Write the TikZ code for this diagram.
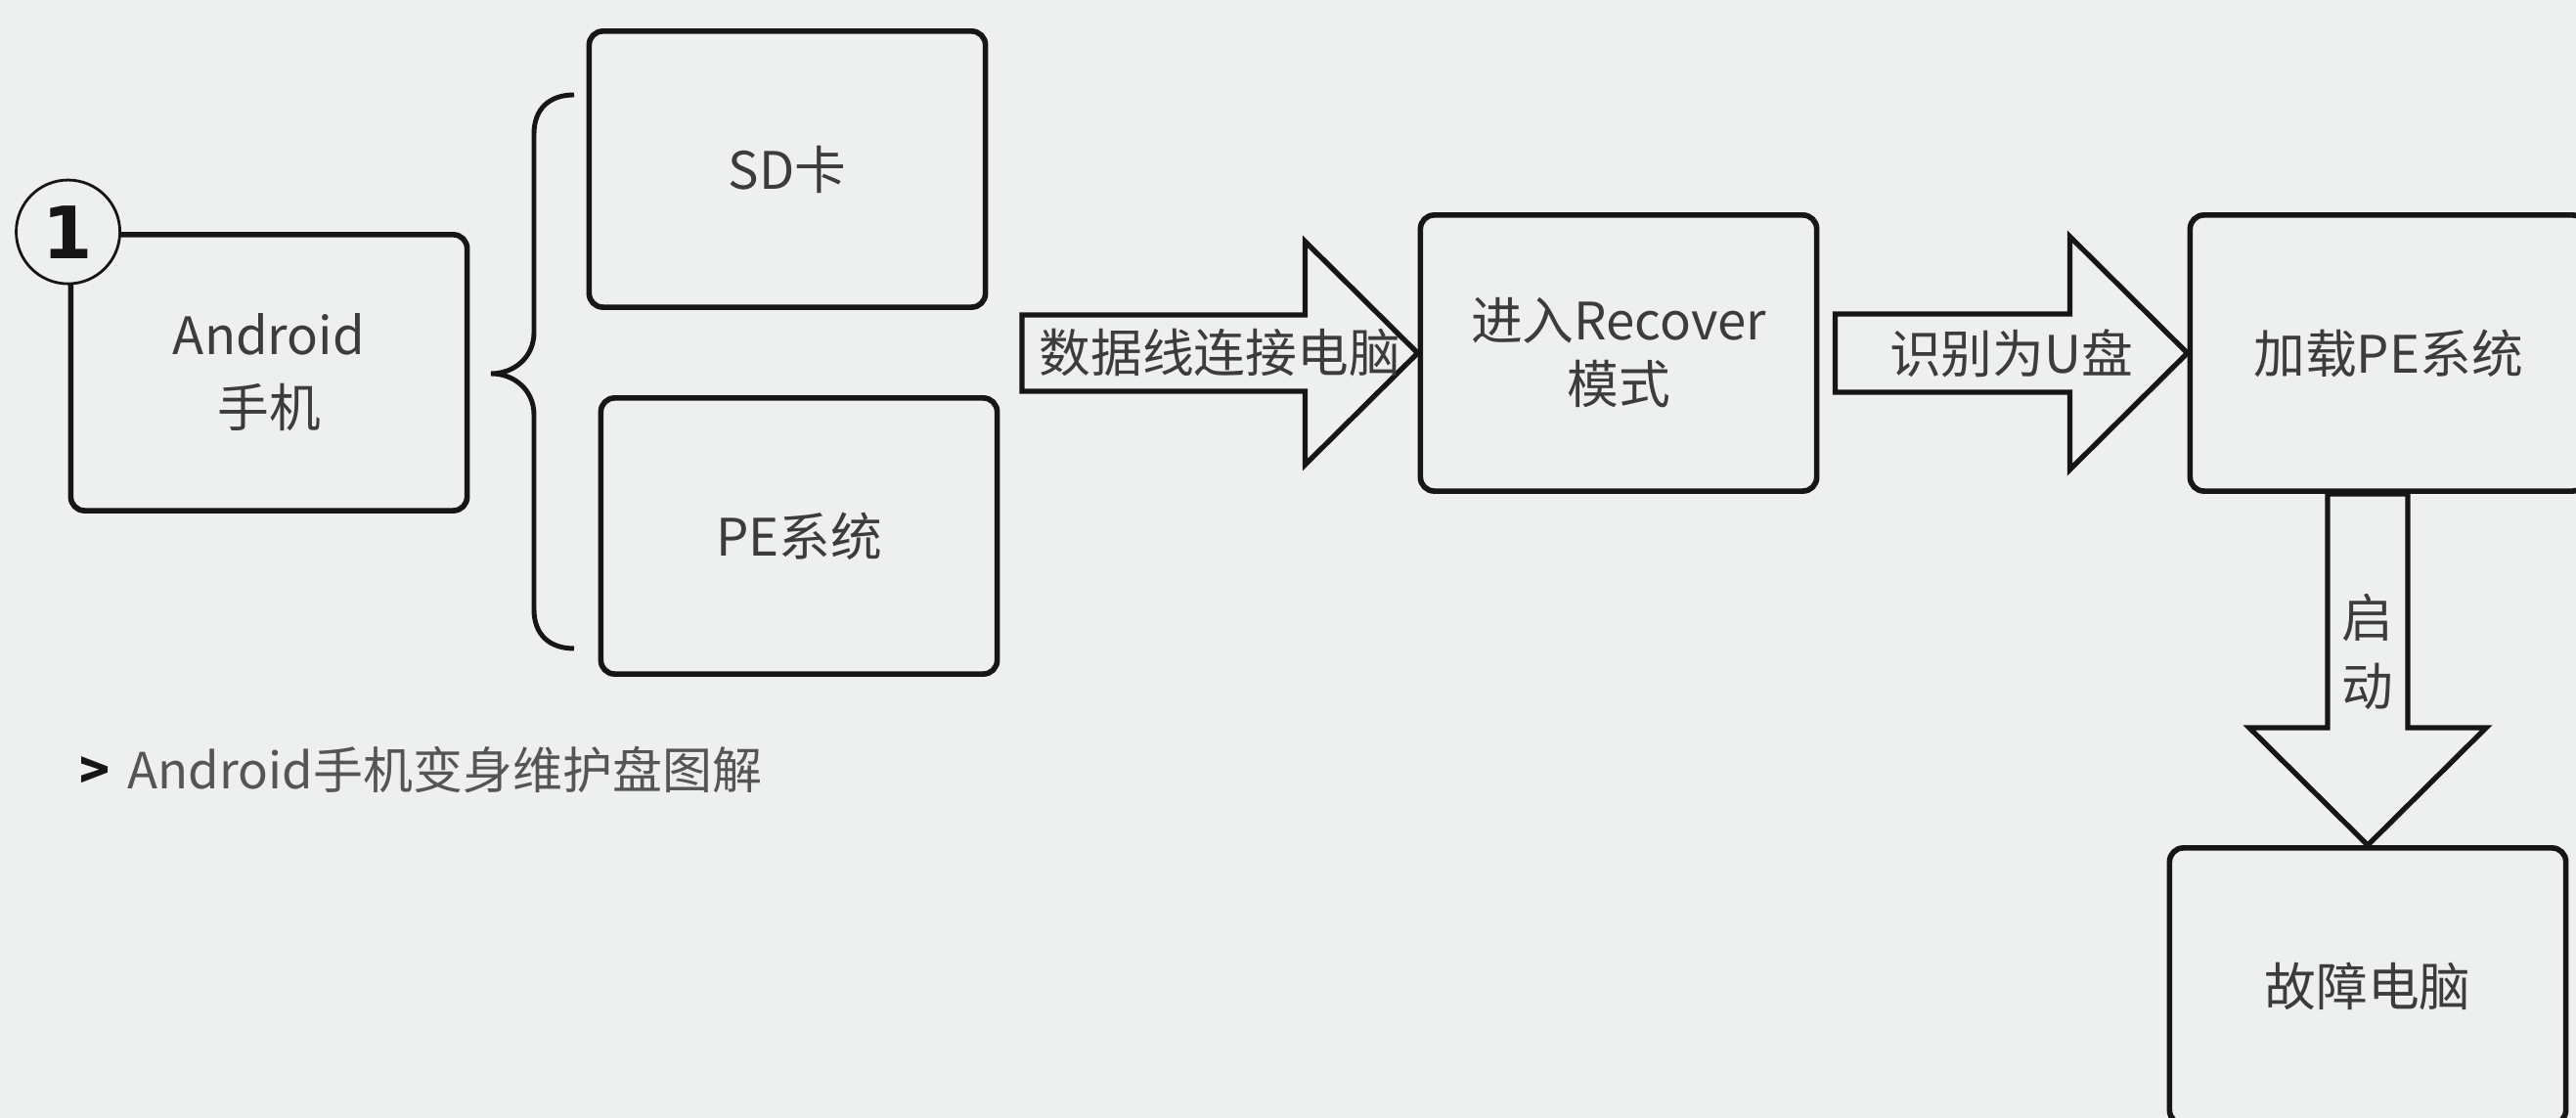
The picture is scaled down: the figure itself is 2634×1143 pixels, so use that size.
\documentclass[tikz,border=0pt]{standalone}
\usepackage{fontspec}
\setmainfont{Noto Sans CJK SC}
\newfontfamily\badgefont{DejaVu Sans}
\usepackage{tikz}
\usetikzlibrary{positioning,calc}
\definecolor{PeBg}{HTML}{EEF0EF}
\definecolor{PeInk}{HTML}{161616}
\definecolor{PeText}{HTML}{3C3C3C}
\definecolor{PeNote}{HTML}{555555}

\begin{document}
\begin{tikzpicture}[x=0.01cm,y=0.01cm,
    stagebox/.style={draw=PeInk,line width=1.6pt,rounded corners=4pt,fill=PeBg,
      minimum width=4.05cm,minimum height=2.82cm,align=center,text=PeText,
      font=\fontsize{15}{19}\selectfont},
    fatarrow/.style={draw=PeInk,line width=1.5pt,fill=PeBg,line join=miter},
    arrowtext/.style={text=PeText,font=\fontsize{15}{20}\selectfont,align=center,inner sep=0pt},
    bracepen/.style={draw=PeInk,line width=1.4pt}]
  \useasboundingbox (0,0) rectangle (2634,1143);
  \fill[PeBg] (0,0) rectangle (2634,1143);
  \node[stagebox,font=\fontsize{15}{21}\selectfont] (phone) at (275,762) {Android\\手机};
  \node[circle,draw=PeInk,line width=0.8pt,fill=PeBg,minimum size=1.06cm,inner sep=0pt,
    text=PeInk,font=\badgefont\bfseries\fontsize{21}{21}\selectfont] (badge) at (phone.north west) {1};
  \node[stagebox] (sdcard) at (805,970) {SD卡};
  \node[stagebox] (pesys) at (817,595) {PE系统};
  \node[stagebox,font=\fontsize{15}{18.5}\selectfont] (recover) at (1655,782) {进入Recover\\模式};
  \node[stagebox] (loadpe) at (2442,782) {加载PE系统};
  \node[stagebox] (fault) at (2421,135) {故障电脑};
  \draw[bracepen] (587,1046) .. controls (562,1046) and (546,1032) .. (546,1006) -- (546,803)
    .. controls (546,778) and (526,761) .. (502,761) .. controls (526,761) and (546,744) .. (546,719)
    -- (546,520) .. controls (546,494) and (562,480) .. (587,480);
  \coordinate (cabletail) at (1045,782);
  \draw[fatarrow] (recover.west) -- ++(-115,114) -- ++(0,-75) -| ($(cabletail)+(0,-39)$)
    -| ($(recover.west)+(-115,-114)$) -- cycle;
  \node[arrowtext] (cabletext) at ($(cabletail)!0.5!(recover.west)$) {数据线连接电脑};
  \coordinate (udisktail) at ($(recover.east)+(16,0)$);
  \draw[fatarrow] (loadpe.west) -- ++(-120,119) -- ++(0,-79) -| ($(udisktail)+(0,-40)$)
    -| ($(loadpe.west)+(-120,-119)$) -- cycle;
  \node[arrowtext] (udisktext) at ($(udisktail)!0.5!(loadpe.west)$) {识别为U盘};
  \coordinate (boottop) at (fault.north |- loadpe.south);
  \draw[fatarrow] (fault.north) -- ++(-121,120) -- ++(80,0) |- ($(boottop)+(41,0)$)
    |- ($(fault.north)+(121,120)$) -- cycle;
  \node[arrowtext] (boottext) at ($(boottop)!0.45!(fault.north)$) {启\\动};
  \node[anchor=west,text=PeNote,font=\fontsize{14.5}{18}\selectfont,inner sep=0pt] (caption)
    at (81,356) {{\color{PeInk}\bfseries >}\hspace{0.35em}Android手机变身维护盘图解};
\end{tikzpicture}
\end{document}
